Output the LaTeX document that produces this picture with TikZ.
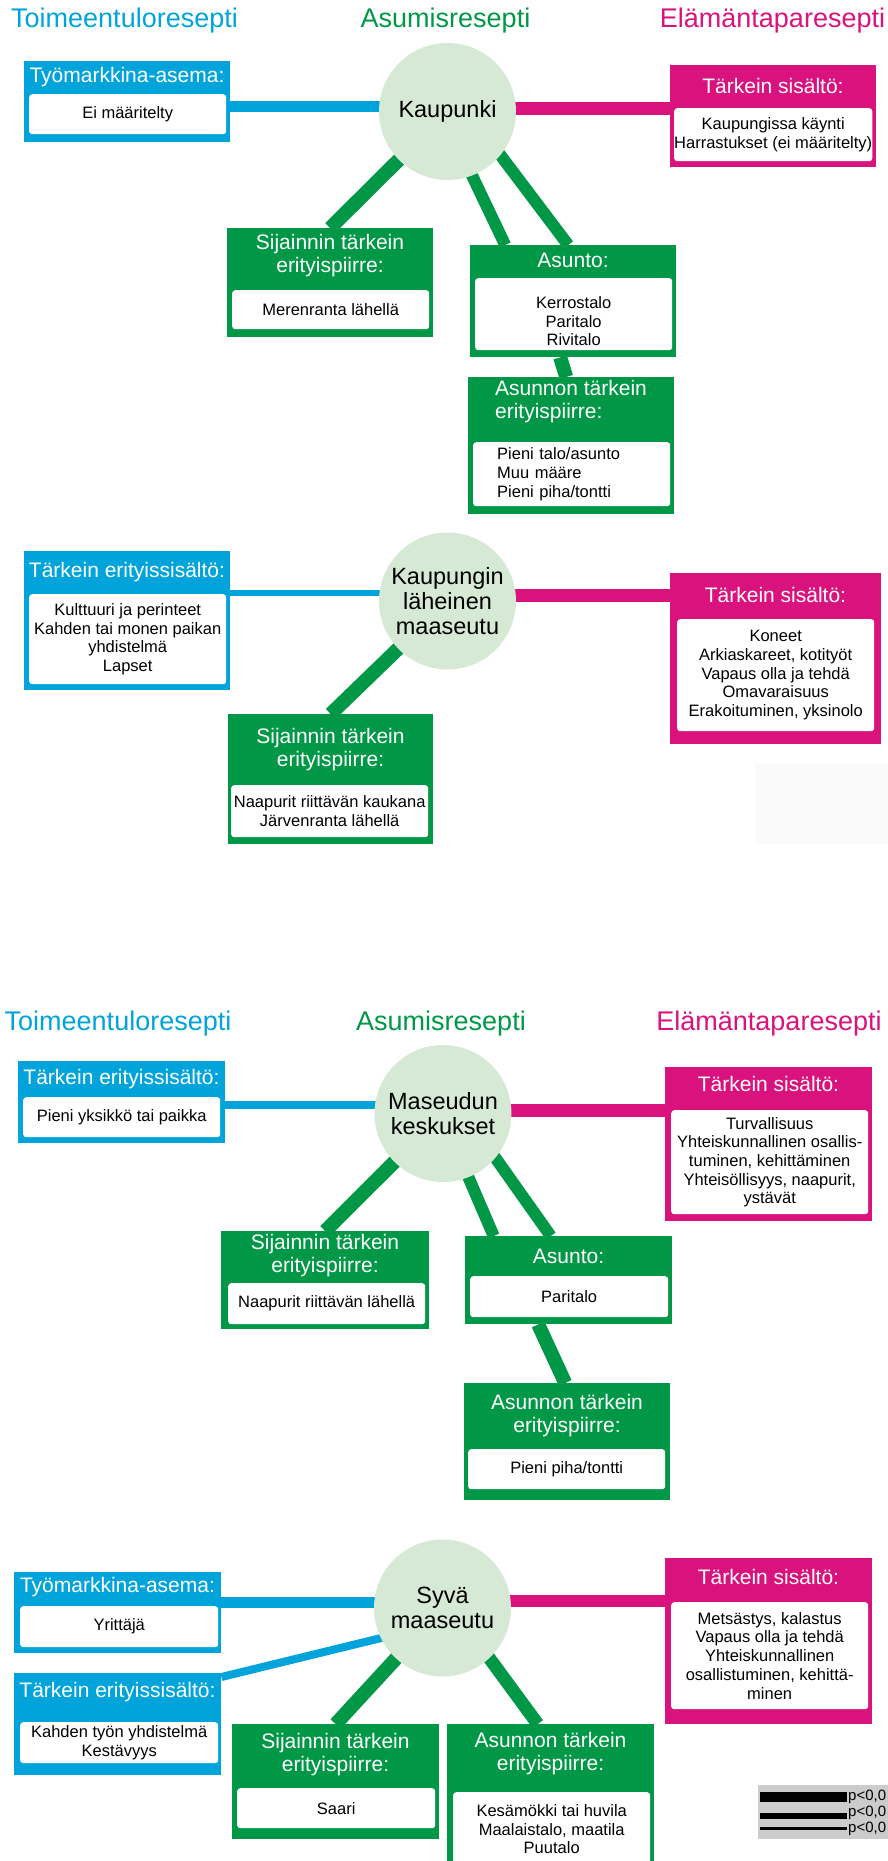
\documentclass[tikz,border=0pt]{standalone}
\usepackage{fontspec}
\setmainfont{Liberation Sans}
\usetikzlibrary{positioning}
\definecolor{tblue}{RGB}{0,164,219}
\definecolor{tgreen}{RGB}{0,152,71}
\definecolor{tpink}{RGB}{217,18,126}
\definecolor{tcirc}{RGB}{214,233,213}
\pgfdeclarelayer{background}
\pgfsetlayers{background,main}

\begin{document}
\begin{tikzpicture}[x=1pt,y=-1pt,
 recipe/.style={inner sep=0pt,anchor=base,font=\fontsize{27}{30}\selectfont},
 place/.style={circle,fill=tcirc,minimum size=137pt,inner sep=0pt,align=center,font=\fontsize{23.5}{25}\selectfont},
 panel/.style={fill=#1,inner sep=0pt,anchor=north west},
 head/.style={text=white,inner sep=0pt,align=center,font=\fontsize{21}{23}\selectfont},
 card/.style={fill=white,rounded corners=3pt,inner sep=0pt,anchor=north west,align=center,font=\fontsize{16.5}{18.7}\selectfont},
 link/.style={draw=#1,line width=13pt},
 key/.style={inner sep=0pt,anchor=west,font=\fontsize{15}{16}\selectfont}]

\useasboundingbox (0,0) rectangle (888,1861);

% otsikot
\node[recipe,text=tblue] (toim1) at (124.5,27) {Toimeentuloresepti};
\node[recipe,text=tgreen] (asum1) at (445.5,27) {Asumisresepti};
\node[recipe,text=tpink] (elt1) at (772.5,27) {Elämäntaparesepti};

% Kaupunki
\node[place] (kaup) at (447.5,111.5) {Kaupunki};
\node[panel=tblue,minimum width=206pt,minimum height=81pt] (tyo1) at (24,61) {};
\node[head] (tyo1h) at (127,77) {Työmarkkina-asema:};
\node[card,minimum width=197pt,minimum height=40pt] (tyo1c) at (29,94) {Ei määritelty};
\node[panel=tpink,minimum width=206pt,minimum height=102pt] (elam1) at (670,65) {};
\node[head] (elam1h) at (773,86) {Tärkein sisältö:};
\node[card,minimum width=198pt,minimum height=53pt] (elam1c) at (674,108) {Kaupungissa käynti\\Harrastukset (ei määritelty)};
\node[panel=tgreen,minimum width=206pt,minimum height=109pt] (sij1) at (227,228) {};
\node[head] (sij1h) at (330,256) {Sijainnin tärkein\\erityispiirre:};
\node[card,minimum width=197pt,minimum height=39pt] (sij1c) at (232,290) {Merenranta lähellä};
\node[panel=tgreen,minimum width=206pt,minimum height=112pt] (asu1) at (470,245) {};
\node[head] (asu1h) at (573,260) {Asunto:};
\node[card,minimum width=197pt,minimum height=72pt] (asu1c) at (475,278) {\rule{0pt}{26pt}Kerrostalo\\Paritalo\\Rivitalo};
\node[panel=tgreen,minimum width=206pt,minimum height=137pt] (asn1) at (468,377) {};
\node[head,align=left] (asn1h) at (571,402) {Asunnon tärkein\\erityispiirre:};
\node[card,minimum width=197pt,minimum height=64pt,align=left,text width=149pt,inner xsep=24pt] (asn1c) at (473,442) {Pieni talo/asunto\\Muu määre\\Pieni piha/tontti};

\begin{pgfonlayer}{background}
\draw[link=tblue,line width=11pt] ([yshift=-5pt]tyo1.east) -- ([yshift=-5pt]tyo1.east -| kaup.center);
\draw[link=tpink] ([yshift=7.5pt]elam1.west) -- ([yshift=7.5pt]elam1.west -| kaup.center);
\draw[link=tgreen,line width=14pt] (kaup.center) -- (sij1.north);
\draw[link=tgreen,line width=12pt] ([xshift=-6pt]kaup.center) -- ([xshift=-68pt]asu1.north);
\draw[link=tgreen,line width=12pt] ([xshift=20pt]kaup.center) -- ([xshift=-5pt]asu1.north);
\draw[link=tgreen,line width=14pt] ([xshift=-13pt]asu1.south) -- ([xshift=-5pt]asn1.north);
\end{pgfonlayer}

% Kaupungin läheinen maaseutu
\node[place] (kaup2) at (447.5,601) {Kaupungin\\läheinen\\maaseutu};
\node[panel=tblue,minimum width=206pt,minimum height=139pt] (tek2) at (24,551) {};
\node[head] (tek2h) at (127,572) {Tärkein erityissisältö:};
\node[card,minimum width=197pt,minimum height=90pt] (tek2c) at (29,594) {Kulttuuri ja perinteet\\Kahden tai monen paikan\\yhdistelmä\\Lapset};
\node[panel=tpink,minimum width=211pt,minimum height=171pt] (elam2) at (670,573) {};
\node[head] (elam2h) at (775.5,595) {Tärkein sisältö:};
\node[card,minimum width=197pt,minimum height=112pt] (elam2c) at (677,619) {Koneet\\Arkiaskareet, kotityöt\\Vapaus olla ja tehdä\\Omavaraisuus\\Erakoituminen, yksinolo};
\node[panel=tgreen,minimum width=205pt,minimum height=130pt] (sij2) at (228,714) {};
\node[head] (sij2h) at (330.5,749.5) {Sijainnin tärkein\\erityispiirre:};
\node[card,minimum width=197pt,minimum height=52pt] (sij2c) at (231,785) {Naapurit riittävän kaukana\\Järvenranta lähellä};
\fill[black!2] (755,763) rectangle (888,844);

\begin{pgfonlayer}{background}
\draw[link=tblue,line width=6pt] ([yshift=27.5pt]tek2.east) -- ([yshift=27.5pt]tek2.east -| kaup2.center);
\draw[link=tpink] ([yshift=63pt]elam2.west) -- ([yshift=63pt]elam2.west -| kaup2.center);
\draw[link=tgreen,line width=14pt] (kaup2.center) -- (sij2.north);
\end{pgfonlayer}

% otsikot 2
\node[recipe,text=tblue] (toim2) at (118,1030) {Toimeentuloresepti};
\node[recipe,text=tgreen] (asum2) at (441,1030) {Asumisresepti};
\node[recipe,text=tpink] (elt2) at (769,1030) {Elämäntaparesepti};

% Maseudun keskukset
\node[place] (mk) at (443,1113.5) {Maseudun\\keskukset};
\node[panel=tblue,minimum width=207pt,minimum height=82pt] (tek3) at (18,1061) {};
\node[head] (tek3h) at (121.5,1079) {Tärkein erityissisältö:};
\node[card,minimum width=197pt,minimum height=40pt] (tek3c) at (23,1097) {Pieni yksikkö tai paikka};
\node[panel=tpink,minimum width=207pt,minimum height=154pt] (elam3) at (665,1067) {};
\node[head] (elam3h) at (768.5,1084) {Tärkein sisältö:};
\node[card,minimum width=197pt,minimum height=104pt] (elam3c) at (671,1110) {Turvallisuus\\Yhteiskunnallinen osallis-\\tuminen, kehittäminen\\Yhteisöllisyys, naapurit,\\ystävät};
\node[panel=tgreen,minimum width=208pt,minimum height=98pt] (sij3) at (221,1231) {};
\node[head] (sij3h) at (325,1255.5) {Sijainnin tärkein\\erityispiirre:};
\node[card,minimum width=197pt,minimum height=41pt] (sij3c) at (228,1283) {Naapurit riittävän lähellä};
\node[panel=tgreen,minimum width=207pt,minimum height=88pt] (asu3) at (465,1236) {};
\node[head] (asu3h) at (568.5,1256) {Asunto:};
\node[card,minimum width=198pt,minimum height=41pt] (asu3c) at (470,1276) {Paritalo};
\node[panel=tgreen,minimum width=206pt,minimum height=117pt] (asn3) at (464,1383) {};
\node[head] (asn3h) at (567,1415.5) {Asunnon tärkein\\erityispiirre:};
\node[card,minimum width=197pt,minimum height=40pt] (asn3c) at (468,1449) {Pieni piha/tontti};

\begin{pgfonlayer}{background}
\draw[link=tblue,line width=8pt] ([yshift=-3pt]tek3.east) -- ([yshift=-3pt]tek3.east -| mk.center);
\draw[link=tpink] ([yshift=33.5pt]elam3.west) -- ([yshift=33.5pt]elam3.west -| mk.center);
\draw[link=tgreen,line width=14pt] (mk.center) -- (sij3.north);
\draw[link=tgreen,line width=12pt] ([xshift=-2pt]mk.center) -- ([xshift=-75pt]asu3.north);
\draw[link=tgreen,line width=12pt] ([xshift=21pt]mk.center) -- ([xshift=-18pt]asu3.north);
\draw[link=tgreen,line width=14pt] ([xshift=-30.5pt]asu3.south) -- ([xshift=-2pt]asn3.north);
\end{pgfonlayer}

% Syvä maaseutu
\node[place] (sy) at (442.5,1608) {Syvä\\maaseutu};
\node[panel=tblue,minimum width=207pt,minimum height=81pt] (tyo4) at (14,1572) {};
\node[head] (tyo4h) at (117.5,1587) {Työmarkkina-asema:};
\node[card,minimum width=198pt,minimum height=41pt] (tyo4c) at (20,1606) {Yrittäjä};
\node[panel=tblue,minimum width=207pt,minimum height=102pt] (tek4) at (14,1673) {};
\node[head] (tek4h) at (117.5,1692) {Tärkein erityissisältö:};
\node[card,minimum width=198pt,minimum height=41pt] (tek4c) at (20,1722) {Kahden työn yhdistelmä\\Kestävyys};
\node[panel=tpink,minimum width=207pt,minimum height=166pt] (elam4) at (665,1558) {};
\node[head] (elam4h) at (768.5,1577) {Tärkein sisältö:};
\node[card,minimum width=197pt,minimum height=107pt] (elam4c) at (671,1602) {Metsästys, kalastus\\Vapaus olla ja tehdä\\Yhteiskunnallinen\\osallistuminen, kehittä-\\minen};
\node[panel=tgreen,minimum width=207pt,minimum height=115pt] (sij4) at (232,1724) {};
\node[head] (sij4h) at (335.5,1755) {Sijainnin tärkein\\erityispiirre:};
\node[card,minimum width=198pt,minimum height=40pt] (sij4c) at (237,1788) {Saari};
\node[panel=tgreen,minimum width=207pt,minimum height=150pt] (asn4) at (447,1724) {};
\node[head] (asn4h) at (550.5,1754) {Asunnon tärkein\\erityispiirre:};
\node[card,minimum width=197pt,minimum height=74pt] (asn4c) at (453,1792) {Kesämökki tai huvila\\Maalaistalo, maatila\\Puutalo};

\begin{pgfonlayer}{background}
\draw[link=tblue,line width=11pt] ([yshift=10pt]tyo4.east) -- ([yshift=10pt]tyo4.east -| sy.center);
\draw[link=tblue,line width=8pt] ([yshift=-4pt]tek4.north east) -- ([yshift=-15pt]sy.center);
\draw[link=tpink,line width=12pt] ([yshift=40pt]elam4.west) -- ([yshift=40pt]elam4.west -| sy.center);
\draw[link=tgreen,line width=14pt] (sy.center) -- (sij4.north);
\draw[link=tgreen,line width=13pt] ([xshift=10pt]sy.center) -- ([xshift=-13pt]asn4.north);
\end{pgfonlayer}

% selite
\fill[black!20] (758,1785) rectangle (895,1839);
\fill (760,1792) rectangle (847,1802);
\fill (760,1813) rectangle (847,1819);
\fill (760,1827) rectangle (847,1830);
\node[key] (p1) at (848,1797) {p<0,0};
\node[key] (p2) at (848,1813) {p<0,0};
\node[key] (p3) at (848,1829) {p<0,0};

\end{tikzpicture}
\end{document}
